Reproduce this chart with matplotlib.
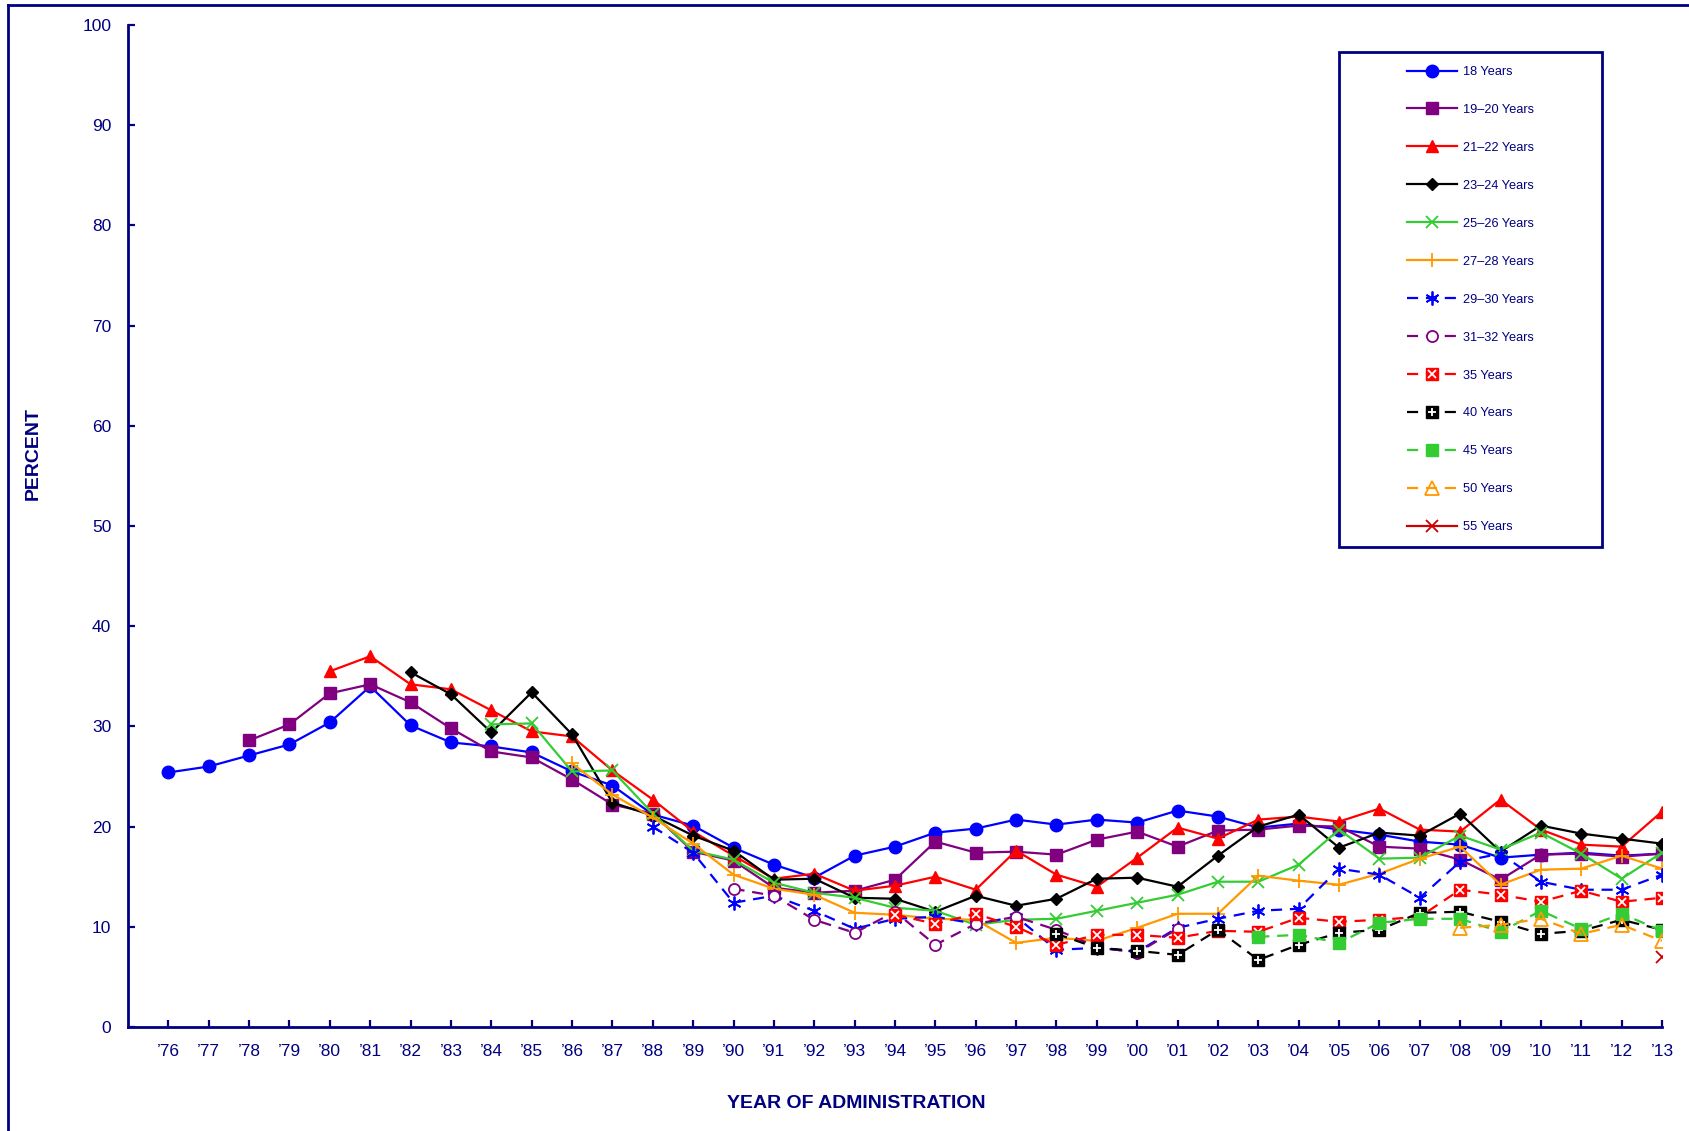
import numpy as np
import matplotlib
matplotlib.use("Agg")
import matplotlib.pyplot as plt
from matplotlib.patches import Rectangle
from matplotlib.lines import Line2D
from matplotlib.legend_handler import HandlerTuple

plt.rcParams['font.family'] = ['Liberation Sans', 'DejaVu Sans']

NAVY = '#000080'

# data: percent by year of administration (1976-2013)
years = list(range(1976, 2014))
year_labels = ["\u2019%02d" % (y % 100) for y in years]

s18 = [25.4, 26.0, 27.1, 28.2, 30.4, 34.0, 30.1, 28.4, 28.0, 27.4,
       25.5, 24.1, 21.2, 20.1, 17.9, 16.2, 14.9, 17.1, 18.0, 19.4,
       19.8, 20.7, 20.2, 20.7, 20.4, 21.6, 21.0, 19.9, 20.3, 19.7,
       19.2, 18.5, 18.2, 16.9, 17.2, 17.4, 17.1, 17.3]
s19_20 = [28.6, 30.2, 33.3, 34.2, 32.4, 29.8, 27.5, 26.9, 24.7, 22.2,
          21.3, 17.5, 16.6, 13.9, 13.4, 13.6, 14.7, 18.5, 17.4, 17.5,
          17.2, 18.7, 19.5, 18.0, 19.6, 19.7, 20.1, 20.0, 18.0, 17.8,
          16.7, 14.7, 17.2, 17.3, 17.0, 17.3]
s21_22 = [35.5, 37.0, 34.2, 33.7, 31.6, 29.5, 29.0, 25.6, 22.7, 19.5,
          17.1, 14.8, 15.3, 13.6, 14.1, 15.0, 13.7, 17.6, 15.2, 14.0,
          16.9, 19.9, 18.8, 20.7, 21.0, 20.5, 21.8, 19.7, 19.5, 22.7,
          19.7, 18.2, 18.0, 21.5]
s23_24 = [35.4, 33.2, 29.4, 33.4, 29.2, 22.4, 21.1, 19.1, 17.6, 14.7,
          14.8, 12.9, 12.8, 11.5, 13.1, 12.1, 12.8, 14.8, 14.9, 14.0,
          17.1, 20.0, 21.2, 17.9, 19.4, 19.1, 21.3, 17.5, 20.1, 19.3,
          18.8, 18.3]
s25_26 = [30.2, 30.3, 25.5, 25.6, 21.3, 17.6, 16.7, 14.4, 13.4, 12.9,
          11.9, 11.6, 10.2, 10.7, 10.8, 11.6, 12.4, 13.2, 14.5, 14.5,
          16.2, 19.7, 16.8, 16.9, 19.1, 17.7, 19.4, 17.3, 14.8, 17.4]
s27_28 = [26.3, 23.2, 20.9, 18.3, 15.2, 13.8, 13.2, 11.4, 11.2, 10.8,
          10.7, 8.4, 8.9, 8.6, 9.9, 11.3, 11.3, 15.1, 14.6, 14.2,
          15.3, 16.8, 18.0, 14.2, 15.7, 15.8, 17.1, 15.8]
s29_30 = [20.0, 17.4, 12.4, 13.1, 11.6, 9.8, 10.8, 11.0, 10.3, 11.0,
          7.7, 7.9, 7.5, 9.9, 10.8, 11.6, 11.8, 15.8, 15.2, 12.9,
          16.5, 17.3, 14.5, 13.7, 13.7, 15.2]
s31_32 = [13.8, 13.1, 10.7, 9.4, 11.5, 8.2, 10.3, 11.0, 9.7, 8.0,
          7.4, 9.8]
s35 = [11.2, 10.3, 11.3, 10.0, 8.2, 9.2, 9.2, 8.9, 9.6, 9.5,
       10.9, 10.5, 10.7, 11.0, 13.7, 13.2, 12.5, 13.6, 12.5, 12.9]
s40 = [9.3, 7.9, 7.6, 7.2, 9.7, 6.7, 8.2, 9.4, 9.7, 11.4,
       11.5, 10.5, 9.3, 9.6, 10.7, 9.7]
s45 = [9.0, 9.2, 8.4, 10.4, 10.8, 10.8, 9.5, 11.6, 9.8, 11.3, 9.6]
s50 = [9.9, 10.2, 10.8, 9.3, 10.2, 8.6]
s55 = [7.0]

# (label, first year, values)
series = [
    ("18 Years", 1976, s18),
    ("19\u201320 Years", 1978, s19_20),
    ("21\u201322 Years", 1980, s21_22),
    ("23\u201324 Years", 1982, s23_24),
    ("25\u201326 Years", 1984, s25_26),
    ("27\u201328 Years", 1986, s27_28),
    ("29\u201330 Years", 1988, s29_30),
    ("31\u201332 Years", 1990, s31_32),
    ("35 Years", 1994, s35),
    ("40 Years", 1998, s40),
    ("45 Years", 2003, s45),
    ("50 Years", 2008, s50),
    ("55 Years", 2013, s55),
]

dash = (0, (5, 3.5))
asterisk = (6, 2, 0)
styles = [
    dict(color='#0000ff', ls='-', marker='o', ms=9),
    dict(color='#800080', ls='-', marker='s', ms=8.5),
    dict(color='#ff0000', ls='-', marker='^', ms=9),
    dict(color='#000000', ls='-', marker='D', ms=6.5),
    dict(color='#33cc33', ls='-', marker='x', ms=8, mew=1.3),
    dict(color='#ff9900', ls='-', marker='+', ms=10, mew=1.3),
    dict(color='#0000ff', ls=dash, marker=asterisk, ms=10, mew=1.3),
    dict(color='#800080', ls=dash, marker='o', ms=8, mfc='white', mew=1.3),
    dict(color='#ff0000', ls=dash, marker='s', ms=9),
    dict(color='#000000', ls=dash, marker='s', ms=9),
    dict(color='#33cc33', ls=dash, marker='s', ms=9),
    dict(color='#ff9900', ls=dash, marker='^', ms=10, mfc='none', mew=1.3),
    dict(color='#cc0000', ls='-', marker='x', ms=8, mew=1.3),
]
# white glyph drawn on top of the filled squares
overlay = {"35 Years": 'x', "40 Years": '+'}

fig = plt.figure(figsize=(16.9, 11.31), dpi=100)
ax = fig.add_axes([128 / 1690, 1 - 1027 / 1131, (1662 - 128) / 1690, (1027 - 25) / 1131])

handles = []
for (label, start, vals), st in zip(series, styles):
    x = np.arange(len(vals)) + (start - years[0])
    ln, = ax.plot(x, vals, lw=1.6, **st)
    h = ln
    if label in overlay:
        ov, = ax.plot(x, vals, ls='none', marker=overlay[label], ms=6,
                      color='white', mew=1.3)
        h = (ln, ov)
    handles.append(h)

ax.set_xlim(-1, len(years) - 1)
ax.set_ylim(0, 100)
ax.set_xticks(np.arange(len(years)))
ax.set_xticklabels(year_labels)
ax.set_yticks(np.arange(0, 101, 10))

for s in ['top', 'right']:
    ax.spines[s].set_visible(False)
for s in ['left', 'bottom']:
    ax.spines[s].set_color(NAVY)
    ax.spines[s].set_linewidth(2)
ax.tick_params(direction='in', length=5, width=1.6, color=NAVY,
               labelcolor=NAVY, labelsize=12.5, pad=12)

fig.text(33 / 1690, 1 - 453 / 1131, "PERCENT", rotation=90, ha='center', va='center',
         fontsize=14, fontweight='bold', color=NAVY)
fig.text(856 / 1690, 1 - 1104 / 1131, "YEAR OF ADMINISTRATION", ha='center', va='center',
         fontsize=14, fontweight='bold', color=NAVY)

leg = fig.legend(handles, [s[0] for s in series], loc='upper left',
                 bbox_to_anchor=(1407 / 1690, 1 - 66 / 1131), frameon=False,
                 fontsize=9.2, labelspacing=2.03, handlelength=3.9, handletextpad=0.45,
                 borderpad=0, borderaxespad=0, numpoints=1,
                 handler_map={tuple: HandlerTuple(ndivide=1)})
for t in leg.get_texts():
    t.set_color(NAVY)

fig.patches.append(Rectangle((1339 / 1690, 1 - 547 / 1131), (1602 - 1339) / 1690, (547 - 52) / 1131,
                             transform=fig.transFigure, fill=False, ec=NAVY, lw=2))
# outer frame of the figure (left and top edges visible)
fig.lines.append(Line2D([8 / 1690, 8 / 1690], [0, 1 - 5 / 1131], transform=fig.transFigure,
                        color=NAVY, lw=2))
fig.lines.append(Line2D([8 / 1690, 1], [1 - 5 / 1131, 1 - 5 / 1131], transform=fig.transFigure,
                        color=NAVY, lw=2))

fig.savefig('out.png', dpi=100)
